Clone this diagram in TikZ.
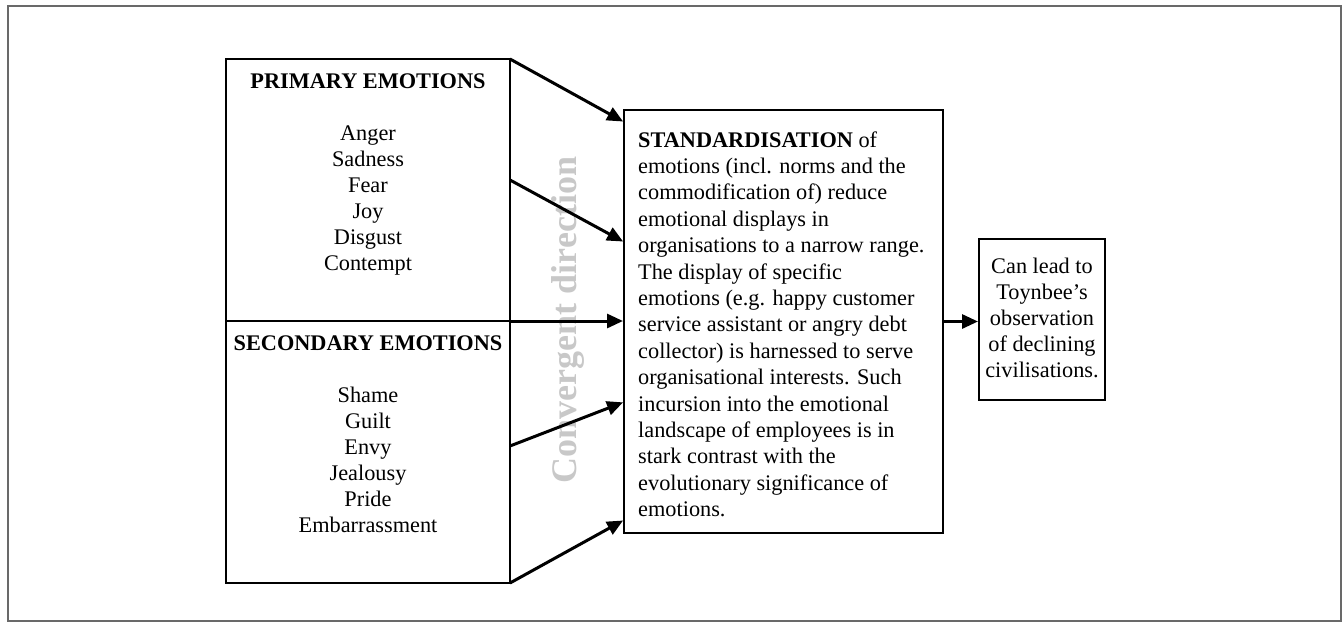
\documentclass[tikz,border=0pt]{standalone}
\usepackage{fontspec}
\setmainfont{Liberation Serif}
\usetikzlibrary{arrows.meta}
\definecolor{framegray}{RGB}{105,105,105}
\definecolor{wmgray}{RGB}{200,200,200}
\begin{document}
\begin{tikzpicture}[x=1pt,y=-1pt,
  boxshape/.style={draw=black, line width=2pt, inner sep=0pt, outer sep=0pt, anchor=north west},
  txt/.style={font=\fontsize{22.3}{26}\selectfont, inner sep=0pt, align=center},
  bodytxt/.style={font=\fontsize{22.3}{26.4}\selectfont, inner sep=0pt, align=left, anchor=north west},
  arr/.style={line width=3pt, -{Triangle[length=16pt,width=14pt]}, shorten >=1pt}]
\useasboundingbox (0,0) rectangle (1342,622);
% outer frame
\node[draw=framegray, line width=1.6pt, minimum width=1333pt, minimum height=615pt, inner sep=0pt, anchor=north west] (frame) at (7,5) {};
% boxes
\node[boxshape, minimum width=284pt, minimum height=262pt] (ptop) at (226,59) {};
\node[boxshape, minimum width=284pt, minimum height=262pt] (pbot) at (226,321) {};
\node[boxshape, minimum width=319pt, minimum height=423pt] (std) at (624,110) {};
\node[boxshape, minimum width=126pt, minimum height=161pt] (res) at (979,239) {};
% watermark
\node[font=\fontsize{36}{36}\bfseries\selectfont, text=wmgray, rotate=90, inner sep=0pt] (conv) at (568,320) {Convergent direction};
% left texts
\node[txt, font=\fontsize{22.3}{26}\bfseries\selectfont, anchor=base] (ptitle) at (368,88) {PRIMARY EMOTIONS};
\node[txt, anchor=north] (plist) at (368,121.8) {\strut Anger\\Sadness\\Fear\\Joy\\Disgust\\Contempt};
\node[txt, font=\fontsize{22.3}{26}\bfseries\selectfont, anchor=base] (stitle) at (368,350) {SECONDARY EMOTIONS};
\node[txt, anchor=north] (slist) at (368,383.8) {\strut Shame\\Guilt\\Envy\\Jealousy\\Pride\\Embarrassment};
% centre text
\node[bodytxt] (stdtxt) at (638,128.5) {\strut\textbf{STANDARDISATION} of\\
emotions (incl. norms and the\\
commodification of) reduce\\
emotional displays in\\
organisations to a narrow range.\\
The display of specific\\
emotions (e.g. happy customer\\
service assistant or angry debt\\
collector) is harnessed to serve\\
organisational interests. Such\\
incursion into the emotional\\
landscape of employees is in\\
stark contrast with the\\
evolutionary significance of\\
emotions.};
% right text
\node[txt, anchor=north] (restxt) at (1042,254.8) {\strut Can lead to\\Toynbee’s\\observation\\of declining\\civilisations.};
% connector points
\coordinate (s2) at (510,180);
\coordinate (s4) at (510,446);
\coordinate (e1) at (624,122);
\coordinate (e2) at (624,242);
\coordinate (e4) at (624,402);
\coordinate (e5) at (624,520);
\draw[arr] (ptop.north east) -- (e1);
\draw[arr] (s2) -- (e2);
\draw[arr] (ptop.south east) -- (ptop.south east -| std.west);
\draw[arr] (s4) -- (e4);
\draw[arr] (pbot.south east) -- (e5);
\draw[arr] (std.east) -- (std.east -| res.west);
\end{tikzpicture}
\end{document}
